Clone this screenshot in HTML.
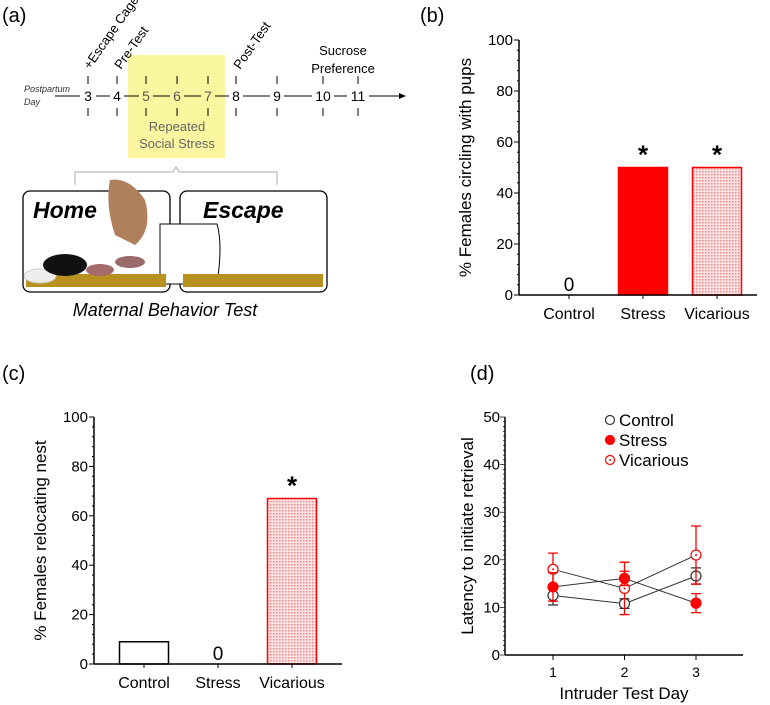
<!DOCTYPE html>
<html><head><meta charset="utf-8"><style>
body{margin:0;background:#fff}
svg{display:block;font-family:"Liberation Sans",Arial,sans-serif}
</style></head><body>
<svg width="770" height="705" viewBox="0 0 770 705" xmlns="http://www.w3.org/2000/svg">
<defs>
<pattern id="dots" width="3" height="3" patternUnits="userSpaceOnUse"><rect width="3" height="3" fill="#fbe3e3"/><rect width="1.5" height="1.5" fill="#f08a8a"/></pattern>
</defs>
<g id="panel-a">
<text x="2" y="22" font-size="20">(a)</text>
<rect x="128" y="55" width="97" height="103" fill="#fbf7a0"/>
<line x1="55" y1="96" x2="402" y2="96" stroke="#000" stroke-width="1"/>
<polygon points="406,96 399,93 399,99" fill="#000"/>
<text x="24" y="92" font-size="9" font-style="italic" fill="#333">Postpartum</text>
<text x="24" y="105" font-size="9" font-style="italic" fill="#333">Day</text>
<g font-size="14" text-anchor="middle">
<rect x="80" y="88" width="16" height="16" fill="#fff"/><text x="88" y="101">3</text>
<rect x="110" y="88" width="14" height="16" fill="#fff"/><text x="117" y="101">4</text>
<rect x="139" y="88" width="14" height="16" fill="#fbf7a0"/><text x="146" y="101" fill="#555">5</text>
<rect x="170" y="88" width="14" height="16" fill="#fbf7a0"/><text x="177" y="101" fill="#555">6</text>
<rect x="201" y="88" width="14" height="16" fill="#fbf7a0"/><text x="208" y="101" fill="#555">7</text>
<rect x="229" y="88" width="14" height="16" fill="#fff"/><text x="236" y="101">8</text>
<rect x="270" y="88" width="14" height="16" fill="#fff"/><text x="277" y="101">9</text>
<rect x="312" y="88" width="22" height="16" fill="#fff"/><text x="323" y="101">10</text>
<rect x="347" y="88" width="22" height="16" fill="#fff"/><text x="358" y="101">11</text>
</g>
<g stroke="#000" stroke-width="1">
<path d="M88 76v8M88 108v8M117 76v8M117 108v8M146 76v8M146 108v8M177 76v8M177 108v8M208 76v8M208 108v8M236 76v8M236 108v8M277 76v8M277 108v8M323 76v8M323 108v8M358 76v8M358 108v8"/>
</g>
<g font-size="13">
<text transform="translate(90,70) rotate(-55)">+Escape Cage</text>
<text transform="translate(121,70) rotate(-55)">Pre-Test</text>
<text transform="translate(240,70) rotate(-55)">Post-Test</text>
<text x="343" y="55" text-anchor="middle">Sucrose</text>
<text x="343" y="73" text-anchor="middle">Preference</text>
<text x="177" y="131" text-anchor="middle" fill="#666">Repeated</text>
<text x="177" y="148" text-anchor="middle" fill="#666">Social Stress</text>
</g>
<path d="M75 185v-13h98l3-5 3 5h98v13" fill="none" stroke="#aaa" stroke-width="1"/>
<rect x="23" y="191" width="147" height="101" rx="7" fill="#fff" stroke="#000" stroke-width="1.3"/>
<rect x="180" y="191" width="147" height="101" rx="7" fill="#fff" stroke="#000" stroke-width="1.3"/>
<path d="M160 224h57q6 20 0 60h-57z" fill="#fff" stroke="#000"/>
<rect x="26" y="274" width="140" height="13" fill="#b8901e"/>
<rect x="183" y="274" width="140" height="13" fill="#b8901e"/>
<ellipse cx="40" cy="276" rx="16" ry="7" fill="#eee" stroke="#ccc"/>
<ellipse cx="65" cy="265" rx="22" ry="11" fill="#111"/>
<ellipse cx="100" cy="270" rx="14" ry="6" fill="#a66b6b"/>
<path d="M110 180q20-3 35 20q8 30-10 45l-20-10q-10-30-5-55z" fill="#b07f5c"/>
<ellipse cx="130" cy="262" rx="15" ry="6" fill="#9b6a6a"/>
<text x="33" y="218" font-size="23" font-weight="bold" font-style="italic">Home</text>
<text x="203" y="218" font-size="23" font-weight="bold" font-style="italic">Escape</text>
<text x="165" y="316" font-size="18" font-style="italic" text-anchor="middle">Maternal Behavior Test</text>
</g>
<g id="b"></g><g id="c"></g><g id="d"></g>
</svg>
<script>
const NS="http://www.w3.org/2000/svg";
function mk(p,t,a){const e=document.createElementNS(NS,t);for(const k in a)e.setAttribute(k,a[k]);p.appendChild(e);return e;}
function txt(p,x,y,s,a){const e=mk(p,'text',Object.assign({x:x,y:y},a));e.textContent=s;return e;}

const barCategories=["Control","Stress","Vicarious"];
const circlingValues=[0,50,50];
const relocatingValues=[9,0,67];
const barYTicks=[0,20,40,60,80,100];
const circlingSig=[false,true,true];
const relocatingSig=[false,false,true];

function barChart(g,cfg,vals,sig){
  const y=v=>cfg.y0-(cfg.y0-cfg.y100)*v/100;
  const x=i=>cfg.c0+i*74;
  txt(g,cfg.lx,cfg.ly,cfg.label,{'font-size':20});
  const t=txt(g,0,0,cfg.title,{'font-size':17,'text-anchor':'middle',transform:`translate(${cfg.tx},${(cfg.y0+cfg.y100)/2}) rotate(-90)`});
  
  
  vals.forEach((v,i)=>{
    const cls=i===0?{fill:'#fff',stroke:'#000'}:(i===1?{fill:'#f00',stroke:'#f00'}:{fill:'url(#dots)',stroke:'#f00'});
    if(v>0){const r=mk(g,'rect',Object.assign({x:x(i)-24.5,y:y(v),width:49,height:y(0)-y(v),'stroke-width':1.5},cls));
      
      }
    else txt(g,x(i),y(0)-4,'0',{'font-size':19,'text-anchor':'middle'});
    if(sig[i]) txt(g,x(i),y(v)-4,'*',{'font-size':26,'text-anchor':'middle','font-weight':'bold'});
    mk(g,'line',{x1:x(i),x2:x(i),y1:y(0),y2:y(0)+4,stroke:'#000'});
    const l=txt(g,x(i),y(0)+24,barCategories[i],{'font-size':16,'text-anchor':'middle'});
    
    
  });
  mk(g,'line',{x1:cfg.ax,x2:cfg.ax,y1:cfg.y100,y2:cfg.y0,stroke:'#000','stroke-width':1.5});
  mk(g,'line',{x1:cfg.ax,x2:cfg.xe,y1:cfg.y0,y2:cfg.y0,stroke:'#000','stroke-width':1.5});
  for(let v=0;v<=100;v+=4){mk(g,'line',{x1:cfg.ax-(v%20?2:5),x2:cfg.ax,y1:y(v),y2:y(v),stroke:'#000'});}
  barYTicks.forEach(v=>txt(g,cfg.ax-6,y(v)+5,String(v),{'font-size':15,'text-anchor':'end'}));
}
const gb=document.getElementById('b');


barChart(gb,{y0:295,y100:40,c0:569,ax:519,xe:757,tx:471,lx:420,ly:22,label:'(b)',title:'% Females circling with pups'},circlingValues,circlingSig);
const gc=document.getElementById('c');


barChart(gc,{y0:664,y100:417,c0:144,ax:94,xe:342,tx:46,lx:2,ly:380,label:'(c)',title:'% Females relocating nest'},relocatingValues,relocatingSig);

// panel d
const days=[1,2,3];
const controlMean=[12.5,10.8,16.6];
const controlErr=[2.0,1.0,1.7];
const stressMean=[14.3,16.1,10.9];
const stressErr=[3.0,1.5,2.0];
const vicariousMean=[18.0,14.0,21.0];
const vicariousErr=[3.4,5.5,6.1];
const lineYTicks=[0,10,20,30,40,50];
const gd=document.getElementById('d');


const dy=v=>655-(655-417)*v/50, dx=d=>553+(d-1)*71.5;
txt(gd,470,380,'(d)',{'font-size':20});
const dt=txt(gd,0,0,'Latency to initiate retrieval',{'font-size':17,'text-anchor':'middle',transform:'translate(473,536) rotate(-90)'});


const dxT=txt(gd,624,699,'Intruder Test Day',{'font-size':17,'text-anchor':'middle'});


mk(gd,'line',{x1:505,x2:505,y1:417,y2:655,stroke:'#000','stroke-width':1.5});
mk(gd,'line',{x1:505,x2:743,y1:655,y2:655,stroke:'#000','stroke-width':1.5});
for(let v=0;v<=50;v+=1){mk(gd,'line',{x1:505-(v%10?2:5),x2:505,y1:dy(v),y2:dy(v),stroke:'#000','stroke-width':0.7});}
lineYTicks.forEach(v=>txt(gd,500,dy(v)+5,String(v),{'font-size':15,'text-anchor':'end'}));
days.forEach(d=>{mk(gd,'line',{x1:dx(d),x2:dx(d),y1:655,y2:660,stroke:'#000'});txt(gd,dx(d),677,String(d),{'font-size':14,'text-anchor':'middle'});});
const series=[
 {name:'control',m:controlMean,e:controlErr,col:'#333',fill:'#fff',dot:false},
 {name:'vicarious',m:vicariousMean,e:vicariousErr,col:'#f00',fill:'#fff',dot:true},
 {name:'stress',m:stressMean,e:stressErr,col:'#f00',fill:'#f00',dot:false}];
series.forEach(s=>{
  const pl=mk(gd,'polyline',{points:days.map((d,i)=>dx(d)+','+dy(s.m[i])).join(' '),fill:'none',stroke:'#333','stroke-width':1});
  
  
});
series.forEach(s=>{
  days.forEach((d,i)=>{
    const x=dx(d),hi=dy(s.m[i]+s.e[i]),lo=dy(s.m[i]-s.e[i]);
    mk(gd,'path',{d:`M${x} ${hi}V${lo}M${x-5} ${hi}h10M${x-5} ${lo}h10`,stroke:s.col,'stroke-width':1.3,fill:'none'});
    const c=mk(gd,'circle',{cx:x,cy:dy(s.m[i]),r:5,fill:s.fill,stroke:s.col,'stroke-width':1.2});
    
    
    if(s.dot) mk(gd,'circle',{cx:x,cy:dy(s.m[i]),r:1,fill:'#f00'});
  });
});
const leg=[['Control','#333','#fff',false,420],['Stress','#f00','#f00',false,440],['Vicarious','#f00','#fff',true,460]];
leg.forEach(l=>{
  const gl=mk(gd,'g',{});
  
  
  mk(gl,'circle',{cx:610,cy:l[4],r:4.5,fill:l[2],stroke:l[1],'stroke-width':1.2});
  if(l[3]) mk(gl,'circle',{cx:610,cy:l[4],r:1,fill:'#f00'});
  txt(gl,619,l[4]+6,l[0],{'font-size':17});
});
</script>
</body></html>
